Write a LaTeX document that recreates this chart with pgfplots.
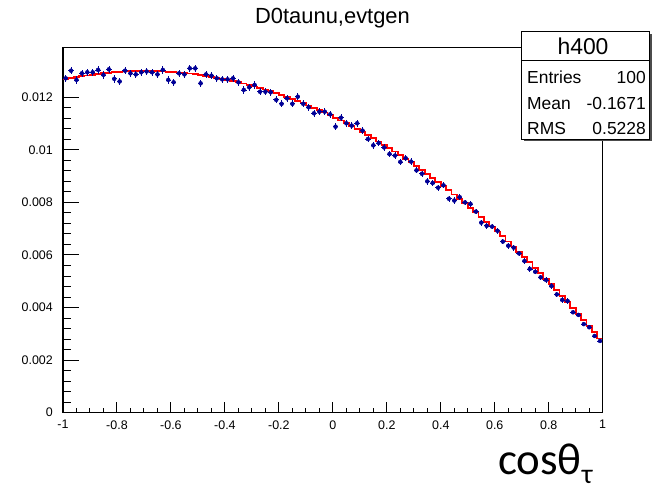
\documentclass[border=0pt]{standalone}
\usepackage{pgfplots}
\pgfplotsset{compat=1.18}
\usepackage{pgfplotstable}
\usepackage{fontspec}
\setmainfont{Liberation Sans}
\newfontfamily\calibri{Carlito}
\definecolor{rootblue}{RGB}{0,0,150}

\pgfplotstableread{
x y ex ey
-0.99 0.01272 0.01 0.00014
-0.97 0.01301 0.01 0.00014
-0.95 0.01266 0.01 0.00014
-0.93 0.01291 0.01 0.00014
-0.91 0.01295 0.01 0.00014
-0.89 0.01295 0.01 0.00014
-0.87 0.01304 0.01 0.00014
-0.85 0.01285 0.01 0.00014
-0.83 0.01306 0.01 0.00014
-0.81 0.01270 0.01 0.00014
-0.79 0.01260 0.01 0.00014
-0.77 0.01301 0.01 0.00014
-0.75 0.01291 0.01 0.00014
-0.73 0.01287 0.01 0.00014
-0.71 0.01295 0.01 0.00014
-0.69 0.01298 0.01 0.00014
-0.67 0.01295 0.01 0.00014
-0.65 0.01287 0.01 0.00014
-0.63 0.01304 0.01 0.00014
-0.61 0.01266 0.01 0.00014
-0.59 0.01257 0.01 0.00014
-0.57 0.01291 0.01 0.00014
-0.55 0.01287 0.01 0.00014
-0.53 0.01310 0.01 0.00014
-0.51 0.01310 0.01 0.00014
-0.49 0.01253 0.01 0.00014
-0.47 0.01287 0.01 0.00014
-0.45 0.01282 0.01 0.00014
-0.43 0.01272 0.01 0.00014
-0.41 0.01268 0.01 0.00014
-0.39 0.01268 0.01 0.00014
-0.37 0.01272 0.01 0.00014
-0.35 0.01257 0.01 0.00014
-0.33 0.01228 0.01 0.00014
-0.31 0.01238 0.01 0.00014
-0.29 0.01247 0.01 0.00014
-0.27 0.01221 0.01 0.00014
-0.25 0.01221 0.01 0.00014
-0.23 0.01219 0.01 0.00014
-0.21 0.01190 0.01 0.00013
-0.19 0.01175 0.01 0.00013
-0.17 0.01196 0.01 0.00013
-0.15 0.01175 0.01 0.00013
-0.13 0.01202 0.01 0.00013
-0.11 0.01175 0.01 0.00013
-0.09 0.01162 0.01 0.00013
-0.07 0.01139 0.01 0.00013
-0.05 0.01145 0.01 0.00013
-0.03 0.01145 0.01 0.00013
-0.01 0.01135 0.01 0.00013
0.01 0.01088 0.01 0.00013
0.03 0.01122 0.01 0.00013
0.05 0.01101 0.01 0.00013
0.07 0.01092 0.01 0.00013
0.09 0.01101 0.01 0.00013
0.11 0.01073 0.01 0.00013
0.13 0.01041 0.01 0.00013
0.15 0.01017 0.01 0.00013
0.17 0.01026 0.01 0.00013
0.19 0.01009 0.01 0.00013
0.21 0.00984 0.01 0.00012
0.23 0.00978 0.01 0.00012
0.25 0.00954 0.01 0.00012
0.27 0.00968 0.01 0.00012
0.29 0.00955 0.01 0.00012
0.31 0.00922 0.01 0.00012
0.33 0.00909 0.01 0.00012
0.35 0.00880 0.01 0.00012
0.37 0.00874 0.01 0.00012
0.39 0.00856 0.01 0.00012
0.41 0.00865 0.01 0.00012
0.43 0.00814 0.01 0.00012
0.45 0.00807 0.01 0.00012
0.47 0.00820 0.01 0.00012
0.49 0.00800 0.01 0.00011
0.51 0.00794 0.01 0.00011
0.53 0.00765 0.01 0.00011
0.55 0.00723 0.01 0.00011
0.57 0.00711 0.01 0.00011
0.59 0.00708 0.01 0.00011
0.61 0.00692 0.01 0.00011
0.63 0.00651 0.01 0.00011
0.65 0.00635 0.01 0.00011
0.67 0.00628 0.01 0.00011
0.69 0.00606 0.01 0.00011
0.71 0.00577 0.01 0.00010
0.73 0.00547 0.01 0.00010
0.75 0.00536 0.01 0.00010
0.77 0.00515 0.01 0.00010
0.79 0.00505 0.01 0.00010
0.81 0.00482 0.01 0.00010
0.83 0.00450 0.01 0.00010
0.85 0.00429 0.01 0.00010
0.87 0.00425 0.01 0.00010
0.89 0.00382 0.01 0.00008
0.91 0.00372 0.01 0.00008
0.93 0.00337 0.01 0.00008
0.95 0.00325 0.01 0.00008
0.97 0.00292 0.01 0.00008
0.99 0.00273 0.01 0.00008
}\datatab

\pgfplotstableread{
x y
-1.00 0.012681
-0.98 0.012723
-0.96 0.012761
-0.94 0.012796
-0.92 0.012829
-0.90 0.012858
-0.88 0.012886
-0.86 0.012909
-0.84 0.012930
-0.82 0.012949
-0.80 0.012963
-0.78 0.012976
-0.76 0.012986
-0.74 0.012992
-0.72 0.012996
-0.70 0.012997
-0.68 0.012995
-0.66 0.012990
-0.64 0.012982
-0.62 0.012972
-0.60 0.012958
-0.58 0.012943
-0.56 0.012923
-0.54 0.012901
-0.52 0.012876
-0.50 0.012848
-0.48 0.012818
-0.46 0.012784
-0.44 0.012747
-0.42 0.012709
-0.40 0.012666
-0.38 0.012622
-0.36 0.012573
-0.34 0.012522
-0.32 0.012469
-0.30 0.012412
-0.28 0.012353
-0.26 0.012291
-0.24 0.012225
-0.22 0.012158
-0.20 0.012086
-0.18 0.012013
-0.16 0.011936
-0.14 0.011856
-0.12 0.011775
-0.10 0.011689
-0.08 0.011601
-0.06 0.011510
-0.04 0.011416
-0.02 0.011320
0.00 0.011220
0.02 0.011118
0.04 0.011012
0.06 0.010903
0.08 0.010793
0.10 0.010679
0.12 0.010562
0.14 0.010442
0.16 0.010319
0.18 0.010194
0.20 0.010066
0.22 0.009935
0.24 0.009801
0.26 0.009663
0.28 0.009524
0.30 0.009381
0.32 0.009236
0.34 0.009087
0.36 0.008936
0.38 0.008782
0.40 0.008625
0.42 0.008465
0.44 0.008302
0.46 0.008136
0.48 0.007968
0.50 0.007796
0.52 0.007623
0.54 0.007445
0.56 0.007265
0.58 0.007082
0.60 0.006896
0.62 0.006708
0.64 0.006516
0.66 0.006321
0.68 0.006125
0.70 0.005924
0.72 0.005722
0.74 0.005516
0.76 0.005306
0.78 0.005095
0.80 0.004881
0.82 0.004664
0.84 0.004443
0.86 0.004220
0.88 0.003994
0.90 0.003765
0.92 0.003534
0.94 0.003299
0.96 0.003061
0.98 0.002821
1.00 0.002821
}\fittab

\begin{document}
\begin{tikzpicture}
\useasboundingbox (0,0) rectangle (654bp,490bp);
\pgfplotsset{
  rootaxis/.style={
    at={(63bp,77.3bp)}, anchor=south west,
    width=539.7bp, height=365.4bp, scale only axis,
    xmin=-1, xmax=1, ymin=0, ymax=0.0139,
    axis line style={line width=1bp, black},
    every tick/.style={line width=1bp, black},
    tick align=inside,
    scaled y ticks=false,
    /pgf/number format/assume math mode=true,
    ticklabel style={font=\fontsize{12.5}{14}\selectfont, inner sep=0pt},
  }
}
\begin{axis}[rootaxis,
  xtick=\empty,
  ytick pos=left,
  ytick={0,0.002,0.004,0.006,0.008,0.01,0.012},
  yticklabels={0,0.002,0.004,0.006,0.008,0.01,0.012},
  minor y tick num=4,
  major tick length=16bp, minor tick length=8bp,
  yticklabel style={xshift=-10bp},
]
\addplot[red, line width=1.8bp, const plot, mark=none] table[x=x, y=y] {\fittab};
\addplot[rootblue, only marks, mark=none,
  error bars/.cd, x dir=both, x explicit, y dir=both, y explicit,
  error mark=none, error bar style={line width=0.75bp, rootblue}]
  table[x=x, y=y, x error=ex, y error=ey] {\datatab};
\end{axis}
\begin{axis}[rootaxis,
  ytick=\empty,
  xtick pos=bottom,
  xtick={-1,-0.8,-0.6,-0.4,-0.2,0,0.2,0.4,0.6,0.8,1},
  xticklabels={-1,-0.8,-0.6,-0.4,-0.2,0,0.2,0.4,0.6,0.8,1},
  minor x tick num=3,
  major tick length=11bp, minor tick length=5bp,
  xticklabel style={yshift=-7.5bp},
]
\end{axis}
% title
\node[anchor=base, inner sep=0, font=\fontsize{22}{26}\selectfont] at (332.5bp,466bp) {D0taunu,evtgen};
% stats box
\fill[gray!60!black] (523.7bp,348.5bp) rectangle (651.5bp,456.3bp);
\filldraw[fill=white, draw=black, line width=1bp] (521.7bp,350.7bp) rectangle (649bp,458.3bp);
\draw[black, line width=1bp] (521.7bp,429.3bp) -- (649bp,429.3bp);
\node[anchor=base, inner sep=0, font=\fontsize{23}{26}\selectfont] at (583bp,435bp) {h400};
\begin{scope}[every node/.style={inner sep=0, font=\fontsize{17.5}{20}\selectfont}]
\node[anchor=base west] at (527bp,406bp) {Entries};
\node[anchor=base east] at (646bp,406bp) {100};
\node[anchor=base west] at (527bp,380.5bp) {Mean};
\node[anchor=base east] at (646bp,380.5bp) {-0.1671};
\node[anchor=base west] at (527bp,355bp) {RMS};
\node[anchor=base east] at (646bp,355bp) {0.5228};
\end{scope}
% x label
\node[anchor=base west, inner sep=0] at (498bp,16bp) {\calibri\fontsize{45}{50}\selectfont cosθ\raisebox{-9.5bp}{\fontsize{28}{30}\selectfont τ}};
\end{tikzpicture}
\end{document}
